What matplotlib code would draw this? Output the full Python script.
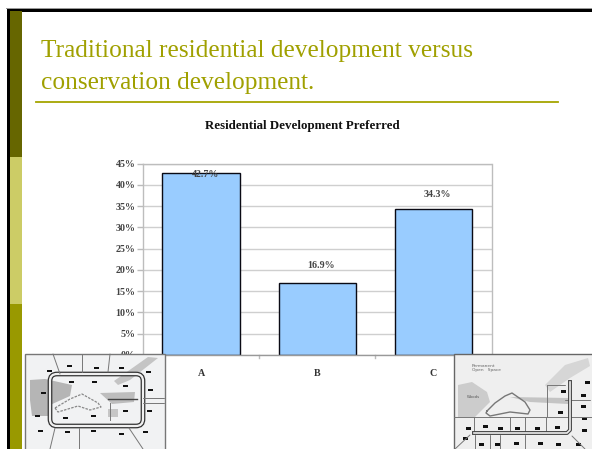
import matplotlib
matplotlib.use("Agg")
import matplotlib.pyplot as plt
from matplotlib.patches import Rectangle, FancyBboxPatch, Polygon

categories = ["A", "B", "C"]
values = [42.7, 16.9, 34.3]
labels = ["42.7%", "16.9%", "34.3%"]
yticks = [0, 5, 10, 15, 20, 25, 30, 35, 40, 45]

W, H = 592, 449
SERIF = "Liberation Serif"
fig = plt.figure(figsize=(W / 100, H / 100), dpi=100, facecolor="white")

# slide background in pixel coordinates
bg = fig.add_axes([0, 0, 1, 1], zorder=0)
bg.set_xlim(0, W); bg.set_ylim(H, 0); bg.axis("off")
bg.add_patch(Rectangle((6.5, 8), W, 3.5, fc="black", ec="none"))
bg.add_patch(Rectangle((6.5, 8), 3, H, fc="black", ec="none"))
bg.add_patch(Rectangle((6, 7.5), W, 1, fc="#999999", ec="none"))
bg.add_patch(Rectangle((9.5, 11), 12.5, 146, fc="#666600", ec="none"))
bg.add_patch(Rectangle((9.5, 157), 12.5, 147, fc="#CCCC66", ec="none"))
bg.add_patch(Rectangle((9.5, 304), 12.5, 145, fc="#999900", ec="none"))
bg.text(41, 51, "Traditional residential development versus", family=SERIF,
        fontsize=18.3, color="#A0A000", va="center", ha="left")
bg.text(41, 83, "conservation development.", family=SERIF,
        fontsize=18.3, color="#A0A000", va="center", ha="left")
bg.plot([36, 558], [102, 102], color="#A5A500", lw=1.3)
bg.text(302, 126, "Residential Development Preferred", family=SERIF,
        fontsize=9.3, weight="bold", color="#111111", ha="center", va="center")

# chart
x0, x1, ytop, ybot = 143, 491.5, 163.5, 355
ax = fig.add_axes([x0 / W, 1 - ybot / H, (x1 - x0) / W, (ybot - ytop) / H], zorder=1)
ax.set_xlim(-0.5, 2.5); ax.set_ylim(0, 45)
ax.set_axisbelow(True)
ax.grid(axis="y", color="#CFCFCF", lw=1)
xpos = range(len(categories))
ax.bar(xpos, values, width=0.665, color="#99CCFF", edgecolor="#0A0A14", lw=1)
offsets = [-0.3, 4.2, 3.5]
for i, (v, lab, off) in enumerate(zip(values, labels, offsets)):
    ax.text(i + 0.035, v + off, lab, family=SERIF, fontsize=7.2, weight="bold",
            color="#444444", ha="center", va="center", clip_on=False)
ax.set_yticks(yticks)
ax.set_yticklabels([f"{t}%" for t in yticks], family=SERIF, fontsize=7.2,
                   weight="bold", color="#444444")
ax.set_xticks(list(xpos))
ax.set_xticklabels(categories, family=SERIF, fontsize=7.2, weight="bold", color="#333333")
ax.tick_params(axis="y", length=4, color="#BBBBBB", width=1, pad=1.5)
ax.tick_params(axis="x", length=0, pad=10)
for x in (0.5, 1.5):
    ax.plot([x, x], [0, -0.6], color="#BBBBBB", lw=1, clip_on=False)
for s in ax.spines.values():
    s.set_color("#BDBDBD"); s.set_linewidth(1)
ax.spines["bottom"].set_color("#999999")

# site-plan sketches, drawn in pixel coordinates
ov = fig.add_axes([0, 0, 1, 1], zorder=3)
ov.set_xlim(0, W); ov.set_ylim(H, 0); ov.axis("off"); ov.patch.set_alpha(0)

def line(xs, ys, c="#777777", lw=0.7):
    ov.plot(xs, ys, color=c, lw=lw, solid_capstyle="round")

def houses(pts, w=5, h=2.5):
    for x, y in pts:
        ov.add_patch(Rectangle((x - w / 2, y - h / 2), w, h, fc="#111111", ec="none"))

def road(x, y, w, h, r=7):
    ov.add_patch(FancyBboxPatch((x + r, y + r), w - 2 * r, h - 2 * r, boxstyle=f"round,pad={r}",
                                fc="none", ec="#333333", lw=3.4))
    ov.add_patch(FancyBboxPatch((x + r, y + r), w - 2 * r, h - 2 * r, boxstyle=f"round,pad={r}",
                                fc="none", ec="#F0F0F0", lw=1.6))

# left sketch
ov.add_patch(Rectangle((25, 353.5), 140, 96, fc="#F1F2F3", ec="#777777", lw=1))
ov.add_patch(Polygon([(30, 380), (45, 379), (72, 385), (70, 396), (50, 405), (48, 416), (32, 416), (30, 400)],
                     fc="#B5B5B5", ec="none"))
ov.add_patch(Polygon([(100, 393), (135, 392), (134, 402), (112, 404)], fc="#BDBDBD", ec="none"))
ov.add_patch(Polygon([(108, 409), (118, 409), (118, 417), (108, 417)], fc="#C6C6C6", ec="none"))
ov.add_patch(Polygon([(114, 381), (148, 357), (158, 358), (130, 380), (118, 385)], fc="#C4C4C4", ec="none"))
for xs, ys in [([53, 60], [354, 374]), ([82, 82], [354, 372]), ([110, 108], [354, 372]),
               ([55, 50], [428, 449]), ([79, 79], [428, 449]), ([129, 143], [428, 449]),
               ([143, 164], [398, 398]), ([143, 164], [403, 403])]:
    line(xs, ys)
road(50, 374, 93, 52)
ov.plot([108, 137], [399, 399], color="#444444", lw=1)
ov.plot([110, 110], [403, 420], color="#777777", lw=0.7)
ov.plot([55, 70, 82, 98, 101, 90, 78, 58, 55], [408, 399, 394, 403, 407, 410, 406, 412, 408],
        color="#888888", lw=0.9, ls=(0, (2, 1)))
houses([(49, 371), (69, 366), (96, 368), (121, 368), (148, 372), (71, 382), (94, 382), (125, 386),
         (150, 390), (43, 393), (37, 416), (65, 418), (93, 416), (125, 411), (149, 411),
         (40, 431), (67, 432), (93, 431), (121, 434), (145, 432)])

# right sketch
ov.add_patch(Rectangle((454, 353.5), 140, 96, fc="#EFEFEF", ec="#666666", lw=1))
ov.add_patch(Polygon([(458, 385), (472, 382), (487, 392), (490, 402), (475, 417), (458, 417)],
                     fc="#CCCCCC", ec="none"))
ov.add_patch(Polygon([(545, 385), (565, 365), (588, 358), (590, 366), (570, 378), (550, 392)],
                     fc="#D6D6D6", ec="none"))
ov.add_patch(Polygon([(510, 397), (568, 398), (568, 404), (530, 402)], fc="#C4C4C4", ec="none"))
ov.text(472, 366, "Permanent", family="DejaVu Sans", fontsize=3.2, color="#666666", ha="left", va="center")
ov.text(472, 370.5, "Open   Space", family="DejaVu Sans", fontsize=3.2, color="#666666", ha="left", va="center")
ov.text(467, 397, "Woods", family="DejaVu Sans", fontsize=2.8, color="#555555", ha="left", va="center")
ov.plot([487, 495, 505, 512, 525, 530, 528, 510, 490, 486, 487],
        [411, 403, 396, 393, 402, 410, 414, 412, 416, 413, 411], color="#777777", lw=1)
for xs, ys in [([454, 592], [417, 417]), ([474, 474], [417, 432]), ([510, 510], [417, 432]),
               ([525, 525], [417, 432]), ([546, 546], [417, 432]), ([547, 547], [385, 417]),
               ([547, 565], [385, 385]), ([565, 590], [400, 400]), ([475, 475], [435, 449]),
               ([490, 490], [435, 449]), ([500, 500], [435, 449]), ([525, 525], [435, 449]),
               ([470, 455], [435, 449]), ([572, 585], [436, 449])]:
    line(xs, ys)
ov.plot([474, 567, 570, 570], [433, 433, 430, 382], color="#444444", lw=2.8)
ov.plot([474, 567, 570, 570], [433, 433, 430, 382], color="#EEEEEE", lw=1.2)
houses([(468, 428), (485, 426), (500, 428), (517, 428), (537, 428), (557, 427), (563, 391),
        (560, 412), (583, 395), (583, 406), (584, 418), (584, 430), (587, 382),
        (465, 438), (481, 444), (497, 444), (516, 443), (540, 443), (558, 444), (578, 444)], w=5, h=3)

fig.savefig("out.png", dpi=100)
